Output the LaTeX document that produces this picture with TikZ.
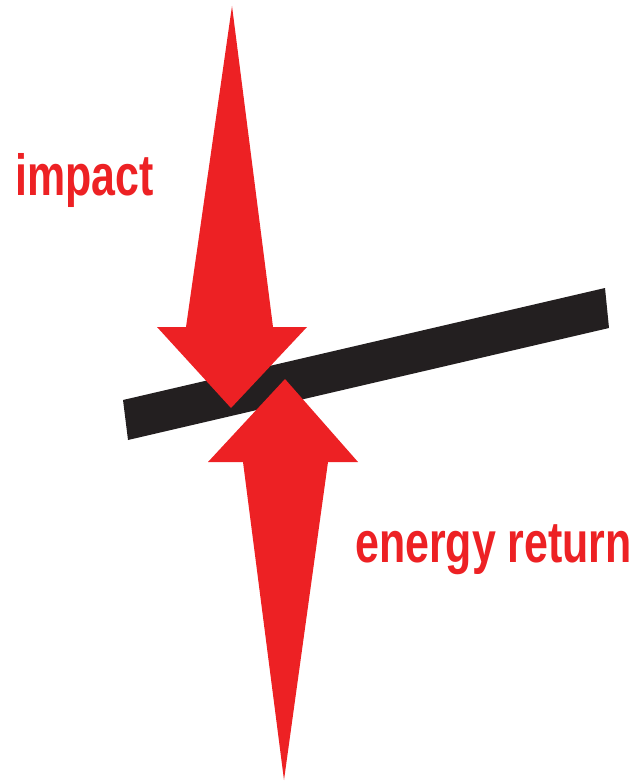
\documentclass[tikz,border=0pt]{standalone}
\usepackage{fontspec}
\newfontfamily\labelfont[FakeStretch=0.74]{Liberation Sans}
\definecolor{forcered}{HTML}{ED2124}
\definecolor{barblack}{HTML}{231F20}
\begin{document}
\begin{tikzpicture}[x=1pt, y=-1pt,
  every node/.style={font=\labelfont\bfseries\fontsize{58}{60}\selectfont, text=forcered, inner sep=0pt, anchor=base west},
  force/.style={fill=forcered, draw=none},
  plate/.style={fill=barblack, draw=none}]
\useasboundingbox (0,0) rectangle (634,781);
% the plate
\fill[plate] (123,400) -- (605,288) -- (609,328) -- (128,440) -- cycle;
% impact, pointing down
\fill[force] (232,6) -- (273,327) -- (307,327) -- (231,408) -- (157,327) -- (186,327) -- cycle;
% energy return, pointing up
\fill[force] (284,780) -- (243,462) -- (208,462) -- (285,379) -- (358,462) -- (328,462) -- cycle;
\node (impact) at (15,195) {impact};
\node (return) at (355,562) {energy return};
\end{tikzpicture}
\end{document}
